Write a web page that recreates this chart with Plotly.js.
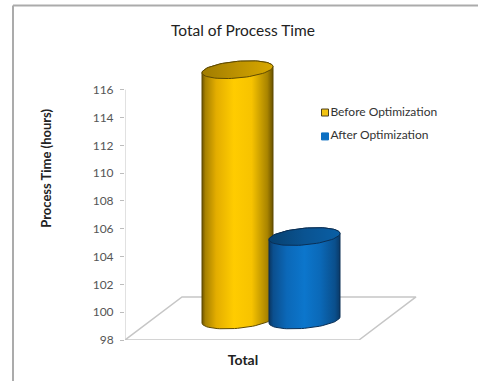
<!DOCTYPE html>
<html>
<head>
<meta charset="utf-8">
<script src="https://cdn.plot.ly/plotly-3.0.1.min.js"></script>
<style>
  html, body { margin: 0; padding: 0; background: #fff; }
  #chart { width: 478px; height: 381px; }
</style>
</head>
<body>
<div id="chart"></div>
<script>
// Chart content
const chartTitle = "Total of Process Time";
const yAxisTitle = "Process Time (hours)";
const categoryLabel = "Total";
const seriesNames = ["Before Optimization", "After Optimization"];
const seriesValues = [116, 104];
const yTicks = [98, 100, 102, 104, 106, 108, 110, 112, 114, 116];

// Scene geometry, in axis units. The axis runs past its top tick so the
// raised cylinder cap has room above the last labelled value.
const yMin = 98, yTop = 116, yMax = 119, xSpan = 292;
const floorDepthX = 57, floorDepthY = 3.1, floorFrontWidth = 234;
const baseLevel = yMin + 1.44;
const cylinderCentres = [112.5, 179.5];
const cylinderRadiusX = 35.5;
const cylinderRadiusY = 0.6;
const cylinderTilt = 0.22;

// Plot box in page pixels
const plotLeft = 125, plotBottom = 340, pxPerUnit = 250 / (yTop - yMin);
const plotHeight = (yMax - yMin) * pxPerUnit;
const paperX = px => (px - plotLeft) / xSpan;
const paperY = px => (plotBottom - px) / plotHeight;

const bodyScales = [
  [[0, "#6f5500"], [0.05, "#a88200"], [0.2, "#e3ad00"], [0.45, "#ffcc00"], [0.7, "#f7c300"], [0.92, "#a98400"], [1, "#6a5200"]],
  [[0, "#0a3560"], [0.06, "#0b4f8e"], [0.25, "#0b68b8"], [0.5, "#0c76cc"], [0.72, "#0b69b8"], [0.93, "#0a4f8c"], [1, "#0a3a68"]]
];
const capScales = [
  [[0, "#a07c00"], [0.5, "#bd9200"], [1, "#d8a800"]],
  [[0, "#07406f"], [0.5, "#0a5391"], [1, "#0a5fa5"]]
];
const outlineColours = ["#5f4a00", "#0a2f55"];
const swatchColours = ["#f2c311", "#0c6fc2"];
const swatchEdges = ["#4d4020", "#0c6fc2"];

function ellipsePoint(cx, cy, angle) {
  return [
    cx + cylinderRadiusX * Math.cos(angle),
    cy + cylinderRadiusY * Math.sin(angle) + cylinderTilt * Math.cos(angle)
  ];
}

function arc(cx, cy, fromDeg, toDeg) {
  const xs = [], ys = [];
  for (let d = fromDeg; d <= toDeg; d += 5) {
    const p = ellipsePoint(cx, cy, d * Math.PI / 180);
    xs.push(p[0]); ys.push(p[1]);
  }
  return [xs, ys];
}

function cylinderTraces(i) {
  const cx = cylinderCentres[i];
  const top = baseLevel + (seriesValues[i] - yMin);
  const low = arc(cx, baseLevel, 180, 360);
  const high = arc(cx, top, 0, 180);
  const cap = arc(cx, top, 0, 360);
  const left = cx - cylinderRadiusX, right = cx + cylinderRadiusX;
  return [
    {
      x: low[0].concat(high[0]).concat([low[0][0]]),
      y: low[1].concat(high[1]).concat([low[1][0]]),
      mode: "lines", fill: "toself",
      fillgradient: { type: "horizontal", colorscale: bodyScales[i], start: left, stop: right },
      line: { color: outlineColours[i], width: 1 },
      cliponaxis: false, hoverinfo: "skip", showlegend: false
    },
    {
      x: cap[0], y: cap[1],
      mode: "lines", fill: "toself",
      fillgradient: { type: "horizontal", colorscale: capScales[i], start: left, stop: right },
      line: { color: outlineColours[i], width: 1 },
      cliponaxis: false, hoverinfo: "skip", showlegend: false
    }
  ];
}

// Floor of the 3D scene
const floorTrace = {
  x: [0, floorFrontWidth, floorFrontWidth + floorDepthX, floorDepthX, 0],
  y: [yMin, yMin, yMin + floorDepthY, yMin + floorDepthY, yMin],
  mode: "lines",
  line: { color: "#c6c6c6", width: 1.5 },
  fill: "toself", fillcolor: "#ffffff",
  cliponaxis: false, hoverinfo: "skip", showlegend: false
};

// Value axis line stops at the top tick
const axisLineTrace = {
  x: [0, 0], y: [yMin, yTop],
  mode: "lines", line: { color: "#c4c4c4", width: 1 },
  cliponaxis: false, hoverinfo: "skip", showlegend: false
};

// Key entries sit beside the cylinders as marker-and-text points
const keyX = 200;
const keyLevels = [114.36, 112.64];
const keyTraces = seriesNames.map((name, i) => ({
  x: [keyX], y: [keyLevels[i]],
  mode: "markers+text",
  text: [name], textposition: "middle right",
  textfont: { family: "Lato, sans-serif", size: 12, color: "#333333" },
  marker: { symbol: "square", size: 7, color: swatchColours[i], line: { color: swatchEdges[i], width: 1 } },
  cliponaxis: false, hoverinfo: "skip", showlegend: false, name: name
}));

const traces = [floorTrace, axisLineTrace]
  .concat(cylinderTraces(0))
  .concat(cylinderTraces(1))
  .concat(keyTraces);

const layout = {
  width: 478, height: 381,
  margin: { l: plotLeft, r: 478 - plotLeft - xSpan, t: plotBottom - plotHeight, b: 381 - plotBottom, pad: 0 },
  paper_bgcolor: "#ffffff",
  plot_bgcolor: "rgba(0,0,0,0)",
  showlegend: false,
  title: {
    text: chartTitle,
    font: { family: "Lato, sans-serif", size: 15.5, color: "#222222" },
    xref: "paper", x: paperX(243), xanchor: "center",
    yref: "container", y: 1 - 31 / 381, yanchor: "middle",
    pad: { t: 0, b: 0, l: 0, r: 0 }
  },
  xaxis: {
    range: [0, xSpan], showgrid: false, zeroline: false, showline: false,
    tickvals: [118], ticktext: ["<b>" + categoryLabel + "</b>"],
    ticks: "", ticklabelstandoff: 10,
    tickfont: { family: "Lato, sans-serif", size: 14, color: "#222222" },
    fixedrange: true
  },
  yaxis: {
    range: [yMin, yMax], showgrid: false, zeroline: false,
    showline: false,
    tickvals: yTicks, ticks: "outside", ticklen: 4, tickcolor: "#bdbdbd", tickwidth: 1,
    ticklabelstandoff: 4,
    tickfont: { family: "Lato, sans-serif", size: 12, color: "#555555" },
    fixedrange: true
  },
  annotations: [{
    text: "<b>" + yAxisTitle + "</b>",
    xref: "paper", yref: "paper",
    x: paperX(46), y: paperY(168),
    textangle: -90, showarrow: false, xanchor: "center", yanchor: "middle",
    font: { family: "Lato, sans-serif", size: 13, color: "#222222" }
  }],
  shapes: [
    { type: "line", xref: "paper", yref: "paper", x0: paperX(13), x1: paperX(478),
      y0: paperY(6), y1: paperY(6), line: { color: "#ababab", width: 2 } },
    { type: "line", xref: "paper", yref: "paper", x0: paperX(13), x1: paperX(13),
      y0: paperY(6), y1: paperY(381), line: { color: "#ababab", width: 2 } }
  ]
};

Plotly.newPlot("chart", traces, layout, { displayModeBar: false, responsive: false });
</script>
</body>
</html>
